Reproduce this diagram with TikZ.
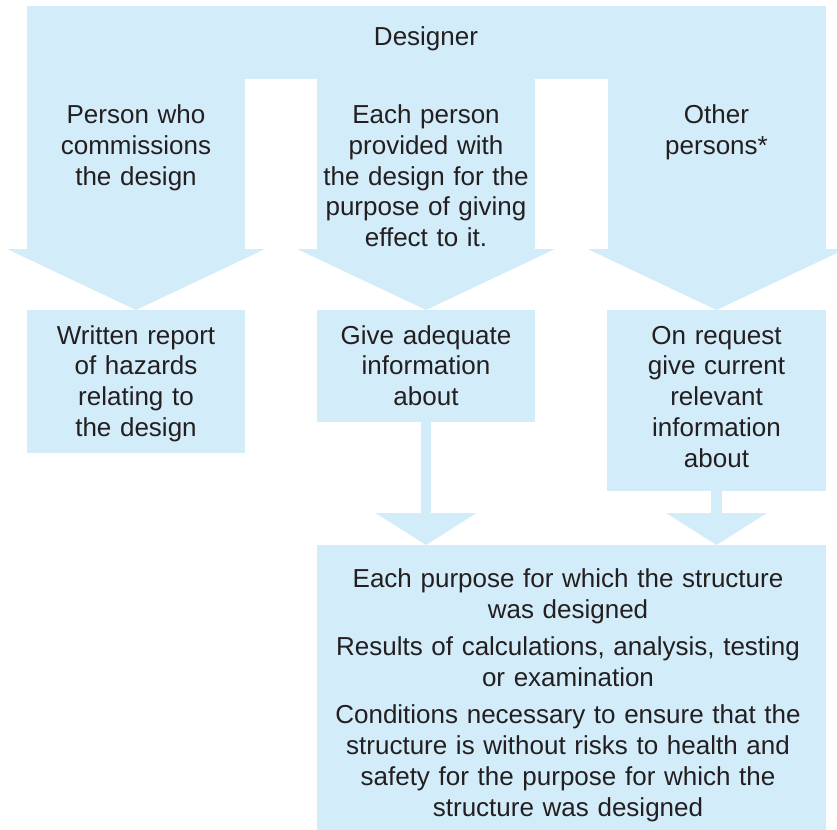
\documentclass[tikz,border=0pt]{standalone}
\usepackage{fontspec}
\setmainfont{Liberation Sans}
\usetikzlibrary{arrows.meta}
\definecolor{pale}{HTML}{D2ECF9}
\definecolor{ink}{HTML}{231F20}
\begin{document}
\begin{tikzpicture}[x=1pt,y=-1pt,
  txt/.style={font=\fontsize{26}{30.8}\selectfont, text=ink, align=center, text width=280pt, inner sep=0pt, anchor=base},
  panel/.style={fill=pale, draw=none, inner sep=0pt, outer sep=0pt, anchor=north west},
  bigarrow/.style={draw=pale, line width=218pt, -{Triangle[width=258pt,length=61pt,line width=0pt]}, shorten <=-6pt},
  smallarrow/.style={draw=pale, line width=10.5pt, -{Triangle[width=101pt,length=32pt,line width=0pt]}, shorten <=-2pt}]
\useasboundingbox (0,0) rectangle (837,829);
\clip (0,0) rectangle (837,829);
% panels
\node[panel, minimum width=799pt, minimum height=73pt] (banner) at (27,6) {};
\node[panel, minimum width=218pt, minimum height=143pt] (wr) at (27,310) {};
\node[panel, minimum width=218pt, minimum height=112pt] (gi) at (317,310) {};
\node[panel, minimum width=219pt, minimum height=181pt] (ri) at (607,310) {};
\node[panel, minimum width=509pt, minimum height=300pt] (bot) at (317,545) {};
% big arrows from the designer banner
\draw[bigarrow] (wr.north |- banner.south) -- (wr.north);
\draw[bigarrow] (gi.north |- banner.south) -- (gi.north);
\draw[bigarrow] (ri.north |- banner.south) -- (ri.north);
% small arrows to the bottom box
\draw[smallarrow] (gi.south) -- (gi.south |- bot.north);
\draw[smallarrow] (ri.south) -- (ri.south |- bot.north);
% texts
\node[txt] (tdes) at (426,46) {Designer};
\node[txt] (tcomm) at (136,123.5) {Person who\\commissions\\the design};
\node[txt] (teach) at (426,123.5) {Each person\\provided with\\the design for the\\purpose of giving\\effect to it.};
\node[txt] (tother) at (716.5,123.5) {Other\\persons*};
\node[txt] (twr) at (136,344) {Written report\\of hazards\\relating to\\the design};
\node[txt] (tgi) at (426,344) {Give adequate\\information\\about};
\node[txt] (tri) at (716.5,344) {On request\\give current\\relevant\\information\\about};
\node[txt, text width=500pt] (tbot) at (568,587.5) {Each purpose for which the structure\\was designed\\[6.5pt]
Results of calculations, analysis, testing\\or examination\\[6.5pt]
Conditions necessary to ensure that the\\structure is without risks to health and\\safety for the purpose for which the\\structure was designed};
\end{tikzpicture}
\end{document}
